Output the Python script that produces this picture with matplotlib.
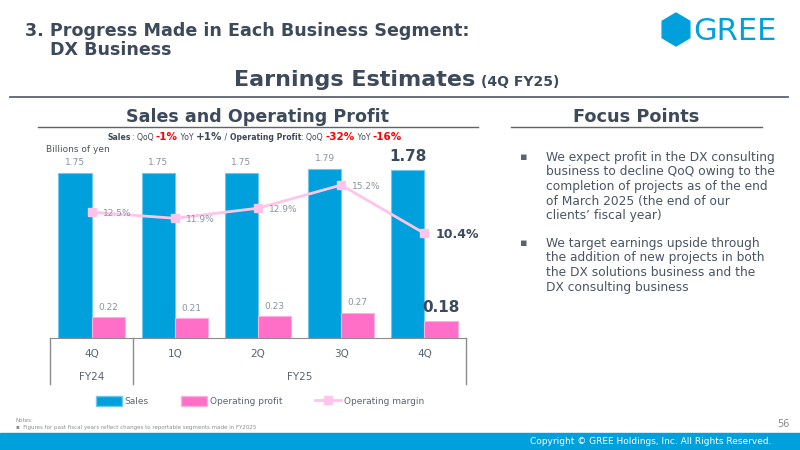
import matplotlib.pyplot as plt
from matplotlib.patches import Patch, Polygon, Rectangle
from matplotlib.lines import Line2D
import numpy as np

# chart data (billions of yen)
quarters = ["4Q", "1Q", "2Q", "3Q", "4Q"]
fiscal_years = ["FY24", "FY25"]
sales = [1.75, 1.75, 1.75, 1.79, 1.78]
op_profit = [0.22, 0.21, 0.23, 0.27, 0.18]
op_margin = [12.5, 11.9, 12.9, 15.2, 10.4]

focus_points = [
    "We expect profit in the DX consulting\nbusiness to decline QoQ owing to the\n"
    "completion of projects as of the end\nof March 2025 (the end of our\nclients\u2019 fiscal year)",
    "We target earnings upside through\nthe addition of new projects in both\n"
    "the DX solutions business and the\nDX consulting business",
]

BLUE = "#00a0dc"
PINK = "#ff6ec7"
LINE_PINK = "#ffc4ea"
DARK = "#3d4a5c"
GRAY = "#8a93a0"
RED = "#ff0000"

fig = plt.figure(figsize=(8, 4.5), dpi=100)


def px(x, y):
    # pixel position (from top-left) -> figure fraction
    return x / 800, 1 - y / 450


# header
fig.text(*px(25, 31), "3. Progress Made in Each Business Segment:",
         fontsize=12.6, fontweight="bold", color=DARK, va="center")
fig.text(*px(50, 50), "DX Business", fontsize=12.6,
         fontweight="bold", color=DARK, va="center")
ang = np.radians(np.arange(6) * 60 + 90)
hexagon = [px(676 + 16 * np.cos(a), 29.5 - 16.5 * np.sin(a)) for a in ang]
fig.add_artist(Polygon(hexagon, closed=True, transform=fig.transFigure, color=BLUE))
fig.text(*px(693, 31), "GREE", fontsize=22, color=BLUE, va="center")

fig.text(*px(234, 80), "Earnings Estimates", fontsize=16,
         fontweight="bold", color=DARK, va="center")
fig.text(*px(481, 82), "(4Q FY25)", fontsize=10,
         fontweight="bold", color=DARK, va="center")
fig.add_artist(Line2D([10 / 800, 788 / 800], [1 - 97 / 450] * 2, color="#5a6470", lw=1.3))

# section headers
fig.text(*px(258, 117), "Sales and Operating Profit", fontsize=12.6, fontweight="bold",
         color=DARK, ha="center", va="center")
fig.add_artist(Line2D([38 / 800, 478 / 800], [1 - 127 / 450] * 2, color="#5a6470", lw=1))
fig.text(*px(636, 117), "Focus Points", fontsize=12.8, fontweight="bold",
         color=DARK, ha="center", va="center")
fig.add_artist(Line2D([511 / 800, 762 / 800], [1 - 127 / 450] * 2, color="#5a6470", lw=1))

# QoQ / YoY line made of pieces
pieces = [("Sales", 5.6, "bold", DARK), (": QoQ ", 5.6, "normal", DARK), ("-1%", 7.5, "bold", RED),
          (" YoY ", 5.6, "normal", DARK), ("+1%", 7.5, "bold", DARK), (" / ", 5.6, "normal", DARK),
          ("Operating Profit", 5.6, "bold", DARK), (": QoQ ", 5.6, "normal", DARK),
          ("-32%", 7.5, "bold", RED), (" YoY ", 5.6, "normal", DARK), ("-16%", 7.5, "bold", RED)]
texts = [fig.text(0, 0, txt, fontsize=fs, fontweight=fw, color=col, va="baseline")
         for txt, fs, fw, col in pieces]
fig.canvas.draw()
r = fig.canvas.get_renderer()
x0 = 108 / 800
for tt in texts:
    tt.set_position((x0, 1 - 140 / 450))
    x0 += tt.get_window_extent(r).width / 800

fig.text(*px(46, 149), "Billions of yen", fontsize=6.5, color="#4a5563", va="center")

# bar chart
ax = fig.add_axes([50 / 800, 1 - 338 / 450, 416 / 800, 198 / 450])
ax2 = ax.twinx()
x = list(range(len(quarters)))
w = 0.4
ax.bar([i - w / 2 for i in x], sales, w, color=BLUE, edgecolor="#6cc8ef", lw=0.8)
ax.bar([i + w / 2 for i in x], op_profit, w, color=PINK, edgecolor="#ffb0e0", lw=0.8)
ax.set_xlim(-0.5, 4.5)
ax.set_ylim(0, 2.097)
ax2.set_ylim(0, 19.68)
ax2.plot(x, op_margin, color=LINE_PINK, lw=2, marker="s", ms=6, zorder=3)

for a in (ax, ax2):
    for s in ("top", "left", "right"):
        a.spines[s].set_visible(False)
    a.set_xticks([])
    a.set_yticks([])
ax.spines["bottom"].set_color("#8c8c8c")
ax2.spines["bottom"].set_visible(False)

last = len(quarters) - 1
for i in x:
    big = i == last
    kw = dict(fontsize=11 if big else 6.5, fontweight="bold" if big else "normal",
              color=DARK if big else GRAY, ha="center", va="bottom",
              textcoords="offset points")
    ax.annotate(f"{sales[i]:.2f}", (i - w / 2, sales[i]), xytext=(0, 4), **kw)
    ax.annotate(f"{op_profit[i]:.2f}", (i + w / 2, op_profit[i]), xytext=(0, 4), **kw)
    kw["ha"] = "left"
    kw["va"] = "center"
    kw["fontsize"] = 9 if big else 6.5
    ax2.annotate(f"{op_margin[i]:.1f}%", (i, op_margin[i]), xytext=(8, -1), **kw)

# category box below the axis
trans = ax.get_xaxis_transform()
for bx in (-0.5, 0.5, 4.5):
    ax.plot([bx, bx], [0, -0.232], color="#8c8c8c", lw=1, transform=trans, clip_on=False)
for i, q in enumerate(quarters):
    ax.text(i, -0.081, q, transform=trans, ha="center", va="center", fontsize=7.5, color="#5a6470")
ax.text(0, -0.197, fiscal_years[0], transform=trans, ha="center", va="center", fontsize=7.5, color="#5a6470")
ax.text(2.5, -0.197, fiscal_years[1], transform=trans, ha="center", va="center", fontsize=7.5, color="#5a6470")

handles = [Patch(facecolor=BLUE, edgecolor="#6cc8ef"), Patch(facecolor=PINK, edgecolor="#ffb0e0"),
           Line2D([], [], color=LINE_PINK, lw=2, marker="s", ms=6)]
fig.legend(handles, ["Sales", "Operating profit", "Operating margin"], loc="center",
           bbox_to_anchor=px(260, 401), ncol=3, frameon=False, fontsize=6.5,
           labelcolor="#5a6470", handlelength=2.9, handleheight=1.3,
           columnspacing=3.6, handletextpad=0.3)

# focus points
ys = [151, 237]
for y, txt in zip(ys, focus_points):
    fig.text(*px(520, y + 6), "\u25aa", fontsize=8, color="#5a6470", va="center")
    fig.text(*px(546, y), txt, fontsize=8.8, color="#4a5563", va="top", linespacing=1.15)

# footer
fig.text(*px(16, 421), "Notes:", fontsize=4, color="#8c8c8c", va="center")
fig.text(*px(16, 428), "\u25aa  Figures for past fiscal years reflect changes to reportable segments made in FY2025",
         fontsize=4, color="#8c8c8c", va="center")
fig.text(*px(790, 424), "56", fontsize=7, color="#8c8c8c", ha="right", va="center")
fig.add_artist(Rectangle((0, 0), 1, 17 / 450, transform=fig.transFigure, color=BLUE))
fig.text(*px(772, 442), "Copyright \u00a9 GREE Holdings, Inc. All Rights Reserved.",
         fontsize=6.5, color="white", ha="right", va="center")

fig.savefig("out.png", dpi=100)
